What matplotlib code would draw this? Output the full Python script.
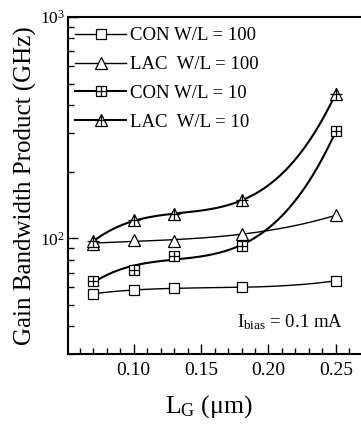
import numpy as np
import matplotlib
matplotlib.use("Agg")
import matplotlib.pyplot as plt
from matplotlib.lines import Line2D
from matplotlib.ticker import FixedLocator, MultipleLocator, LogLocator, NullFormatter, FormatStrFormatter

plt.rcParams['font.family'] = 'serif'
plt.rcParams['font.serif'] = ['Liberation Serif', 'DejaVu Serif']
plt.rcParams['mathtext.fontset'] = 'custom'
plt.rcParams['mathtext.rm'] = 'Liberation Serif'
plt.rcParams['mathtext.it'] = 'Liberation Serif:italic'

# gate length (um)
lg = [0.07, 0.10, 0.13, 0.18, 0.25]

# gain bandwidth product (GHz)
con_100 = [56.2, 58.2, 59.6, 60.0, 64.3]
lac_100 = [94.6, 98.6, 96.8, 105.0, 127.0]
con_10 = [63.9, 72.2, 83.5, 92.0, 305.0]
lac_10 = [96.8, 120.6, 128.4, 148.6, 451.0]

labels = ["CON W/L = 100", "LAC  W/L = 100", "CON W/L = 10", "LAC  W/L = 10"]


def smooth_fit(x, y, deg=3):
    # smooth trend line through the points (fit in log space)
    c = np.polyfit(x, np.log10(y), deg)
    xs = np.linspace(min(x), max(x), 200)
    return xs, 10 ** np.polyval(c, xs)


fig = plt.figure(figsize=(3.61, 4.24), dpi=100)
ax = fig.add_axes([68 / 361, 70 / 424, 293 / 361, 337 / 424])

series = [
    (con_100, 's', None, 1.0),
    (lac_100, '^', None, 1.0),
    (con_10, 's', '+', 1.5),
    (lac_10, '^', '+', 1.5),
]

handles = []
for vals, mk, inner, lw in series:
    xs, ys = smooth_fit(lg, vals)
    ax.plot(xs, ys, color='black', lw=lw)
    ms = 7 if mk == 's' else 9
    ax.plot(lg, vals, linestyle='none', marker=mk, ms=ms, mfc='white',
            mec='black', mew=0.9)
    h = Line2D([], [], color='black', lw=lw, marker=mk, ms=ms, mfc='white',
               mec='black', mew=0.9)
    if inner:
        ax.plot(lg, vals, linestyle='none', marker=inner, ms=ms, mec='black', mew=0.9)
        h = (h, Line2D([], [], linestyle='none', marker=inner, ms=ms,
                       mec='black', mew=0.9))
    handles.append(h)

ax.set_yscale('log')
ax.set_ylim(30, 1000)
ax.set_xlim(0.0512, 0.2687)

ax.xaxis.set_major_locator(FixedLocator([0.10, 0.15, 0.20, 0.25]))
ax.xaxis.set_minor_locator(MultipleLocator(0.01))
ax.xaxis.set_major_formatter(FormatStrFormatter('%.2f'))
ax.yaxis.set_major_locator(LogLocator(base=10))
ax.yaxis.set_minor_locator(LogLocator(base=10, subs=np.arange(2, 10)))
ax.yaxis.set_minor_formatter(NullFormatter())

ax.tick_params(which='both', direction='in', top=False, right=False, width=1.0)
ax.tick_params(which='major', length=7)
ax.tick_params(which='minor', length=4)
ax.tick_params(axis='x', which='major', labelsize=14, pad=6)
ax.tick_params(axis='y', which='major', labelsize=12.5, pad=2)

for s in ['left', 'bottom', 'top']:
    ax.spines[s].set_linewidth(1.5)
ax.spines['right'].set_visible(False)

ax.set_ylabel("Gain Bandwidth Product (GHz)", fontsize=18)
ax.yaxis.set_label_coords(-0.105, 0.5)
ax.set_xlabel(r"L$_\mathrm{G}$ (μm)", fontsize=18.5)
ax.xaxis.set_label_coords(0.48, -0.115)

ax.text(0.577, 0.08, r"I$_\mathrm{bias}$ = 0.1 mA", transform=ax.transAxes,
        fontsize=13.5, ha='left', va='baseline')

ax.legend(handles, labels, loc='upper left', bbox_to_anchor=(-0.01, 1),
          frameon=False, fontsize=13.5, handlelength=2.7, handletextpad=0.2,
          borderaxespad=0, borderpad=0.55, labelspacing=0.62)

fig.savefig("out.png", dpi=100)
